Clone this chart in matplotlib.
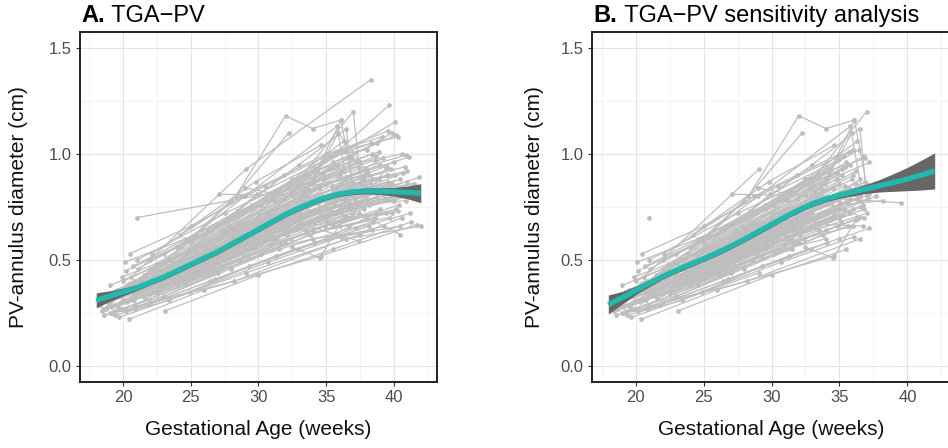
import numpy as np
import matplotlib.pyplot as plt

plt.rcParams['font.family'] = ['Liberation Sans', 'DejaVu Sans']

# individual fetuses: (gestational age in weeks, PV-annulus diameter in cm)
subjects_a = [
    [(19.0, 0.30), (25.0, 0.47), (31.0, 0.66), (36.5, 0.80)],
    [(20.1, 0.36), (26.3, 0.55), (32.1, 0.74), (38.4, 0.88)],
    [(21.0, 0.70), (38.2, 0.90)],
    [(20.6, 0.42), (29.1, 0.93), (38.3, 1.35)],
    [(22.4, 0.45), (28.3, 0.80), (32.0, 1.18), (34.0, 1.12), (36.1, 1.16)],
    [(23.5, 0.50), (28.0, 0.78), (32.25, 1.10)],
    [(19.4, 0.29), (24.8, 0.47), (30.6, 0.71), (39.65, 1.23)],
    [(20.3, 0.38), (27.2, 0.62), (33.0, 0.88), (37.0, 1.20), (37.6, 0.86)],
    [(21.5, 0.43), (28.5, 0.66), (34.2, 0.93), (40.1, 1.15)],
    [(22.0, 0.46), (29.5, 0.74), (35.5, 0.96), (40.2, 1.09)],
    [(20.8, 0.40), (27.8, 0.66), (34.8, 0.88), (40.9, 0.995)],
    [(21.8, 0.44), (30.2, 0.76), (41.1, 0.985)],
    [(23.1, 0.26), (30.0, 0.43), (35.5, 0.55), (41.3, 0.68)],
    [(20.4, 0.22), (26.0, 0.36), (34.6, 0.52), (41.7, 0.667)],
    [(19.0, 0.25), (28.2, 0.40), (36.5, 0.60), (42.0, 0.66)],
    [(19.7, 0.23), (29.1, 0.44), (37.5, 0.62), (40.6, 0.70)],
    [(18.5, 0.27), (24.0, 0.38), (31.5, 0.55), (38.5, 0.68)],
    [(19.2, 0.31), (23.5, 0.42), (30.4, 0.60), (37.8, 0.74)],
    [(20.0, 0.34), (25.5, 0.49), (31.8, 0.68), (38.8, 0.80)],
    [(21.2, 0.37), (26.8, 0.53), (33.0, 0.72), (39.2, 0.84)],
    [(22.2, 0.41), (27.5, 0.58), (33.6, 0.80), (39.5, 0.90)],
    [(18.8, 0.28), (22.6, 0.36), (29.0, 0.55), (35.8, 0.72), (40.0, 0.78)],
    [(19.6, 0.33), (24.2, 0.46), (30.8, 0.66), (36.9, 0.84)],
    [(20.7, 0.35), (27.0, 0.52), (32.6, 0.69), (38.0, 0.79)],
    [(21.4, 0.39), (25.8, 0.52), (31.0, 0.70), (36.2, 0.86), (39.8, 0.93)],
    [(22.8, 0.45), (28.8, 0.67), (34.5, 0.84), (39.0, 0.95)],
    [(23.6, 0.48), (30.0, 0.70), (35.2, 0.90), (38.6, 0.97)],
    [(24.5, 0.52), (31.2, 0.78), (36.8, 0.99)],
    [(20.2, 0.45), (26.5, 0.64), (32.8, 0.84), (37.2, 0.96)],
    [(21.0, 0.50), (27.5, 0.72), (33.5, 0.90), (38.8, 1.05)],
    [(20.5, 0.53), (25.0, 0.66), (30.5, 0.85), (36.0, 1.02)],
    [(19.5, 0.36), (24.5, 0.50), (29.8, 0.64), (35.0, 0.78), (39.5, 0.85)],
    [(18.3, 0.29), (21.5, 0.36), (27.6, 0.52), (33.2, 0.66), (38.2, 0.76)],
    [(19.9, 0.27), (24.6, 0.38), (30.2, 0.53), (35.6, 0.66), (40.4, 0.76)],
    [(21.6, 0.32), (27.3, 0.47), (32.4, 0.60), (37.4, 0.72)],
    [(22.5, 0.34), (28.6, 0.50), (34.0, 0.64), (39.0, 0.74)],
    [(23.8, 0.40), (29.4, 0.55), (35.0, 0.70), (40.8, 0.80)],
    [(20.9, 0.29), (26.2, 0.43), (31.6, 0.58), (36.4, 0.70), (40.3, 0.73)],
    [(19.3, 0.26), (23.0, 0.33), (28.0, 0.46), (33.8, 0.62), (38.6, 0.70)],
    [(18.6, 0.24), (22.0, 0.30), (27.0, 0.44), (32.0, 0.58)],
    [(24.0, 0.44), (30.6, 0.62), (36.6, 0.78), (41.5, 0.86)],
    [(25.2, 0.49), (31.4, 0.68), (37.0, 0.86), (41.0, 0.92)],
    [(26.0, 0.55), (32.0, 0.76), (36.0, 0.90)],
    [(27.0, 0.60), (33.2, 0.82), (38.0, 0.92)],
    [(28.0, 0.58), (34.4, 0.77), (39.6, 0.87)],
    [(29.0, 0.62), (35.4, 0.80), (40.5, 0.88)],
    [(30.0, 0.66), (35.0, 0.86), (37.8, 0.90)],
    [(31.0, 0.62), (36.0, 0.74), (40.0, 0.82)],
    [(32.0, 0.70), (36.5, 0.88), (39.2, 0.98)],
    [(20.0, 0.40), (25.0, 0.55), (30.0, 0.72), (34.8, 0.91), (38.4, 1.00)],
    [(22.0, 0.50), (26.0, 0.62), (31.5, 0.83), (36.3, 1.06)],
    [(23.0, 0.53), (28.4, 0.73), (33.0, 0.95), (36.5, 1.12), (37.0, 0.80)],
    [(24.0, 0.56), (29.0, 0.80), (35.8, 1.13), (36.6, 0.84)],
    [(19.8, 0.33), (26.6, 0.57), (33.4, 0.80), (35.9, 1.10), (38.5, 0.88)],
    [(21.3, 0.35), (28.2, 0.59), (34.0, 0.77), (39.8, 0.86)],
    [(22.7, 0.39), (29.6, 0.61), (35.6, 0.77), (40.7, 0.84)],
    [(18.9, 0.30), (23.8, 0.41), (29.4, 0.58), (34.6, 0.71), (39.4, 0.79)],
    [(20.6, 0.31), (25.6, 0.44), (31.2, 0.60), (36.8, 0.74), (41.2, 0.80)],
    [(21.9, 0.37), (26.4, 0.50), (32.2, 0.65), (37.6, 0.78)],
    [(23.3, 0.43), (27.9, 0.55), (33.9, 0.72), (39.0, 0.82)],
    [(24.8, 0.46), (30.0, 0.60), (35.3, 0.74), (40.6, 0.82)],
    [(25.8, 0.50), (31.8, 0.67), (37.2, 0.81), (41.8, 0.84)],
    [(19.1, 0.34), (22.9, 0.44), (28.9, 0.61), (34.2, 0.78), (38.9, 0.88)],
    [(20.4, 0.37), (24.3, 0.48), (29.9, 0.66), (35.7, 0.84), (40.1, 0.90)],
    [(21.7, 0.40), (26.9, 0.56), (32.9, 0.76), (38.3, 0.86)],
    [(22.3, 0.42), (28.0, 0.62), (33.8, 0.83), (37.9, 0.93)],
    [(18.4, 0.26), (20.8, 0.31), (25.2, 0.42), (30.9, 0.57), (36.2, 0.69)],
    [(19.6, 0.28), (24.0, 0.40), (30.0, 0.58), (35.1, 0.68), (39.9, 0.72)],
    [(20.9, 0.33), (26.1, 0.47), (31.9, 0.63), (37.3, 0.76), (40.9, 0.78)],
    [(23.9, 0.39), (29.2, 0.52), (34.9, 0.66), (40.2, 0.74)],
    [(25.5, 0.44), (31.0, 0.58), (36.0, 0.66), (39.7, 0.70)],
    [(27.5, 0.50), (33.5, 0.64), (38.7, 0.72)],
    [(28.9, 0.52), (34.0, 0.60), (38.4, 0.64)],
    [(21.1, 0.46), (24.0, 0.56), (28.8, 0.73), (32.5, 0.88), (36.9, 0.98)],
    [(19.0, 0.38), (22.8, 0.48), (27.4, 0.64), (31.3, 0.82), (35.3, 0.99), (38.0, 1.02)],
    [(20.1, 0.49), (24.6, 0.60), (29.5, 0.76), (34.3, 0.92)],
    [(22.1, 0.53), (28.7, 0.80), (35.0, 1.00), (39.1, 1.08)],
    [(26.3, 0.64), (32.3, 0.86), (36.4, 1.02), (40.3, 1.08)],
    [(25.0, 0.58), (30.4, 0.78), (35.8, 0.95), (39.9, 1.10)],
    [(24.2, 0.62), (29.8, 0.87), (34.6, 1.04)],
    [(18.2, 0.32), (21.2, 0.40), (26.7, 0.52), (32.7, 0.70), (37.7, 0.82), (41.4, 0.86)],
    [(19.4, 0.24), (23.4, 0.31), (29.3, 0.47), (34.1, 0.58), (39.3, 0.66)],
    [(20.2, 0.26), (24.9, 0.35), (30.7, 0.49), (36.1, 0.61), (40.5, 0.66)],
    [(33.5, 0.78), (36.8, 0.70), (39.5, 0.94)],
    [(32.5, 0.56), (34.55, 0.51), (36.3, 0.70)],
    [(30.5, 0.72), (37.4, 0.59)],
    [(34.0, 0.88), (36.1, 1.16), (37.0, 0.85)],
    [(27.1, 0.81), (36.5, 0.80)],
    [(29.0, 0.84), (33.0, 0.79), (40.8, 0.82)],
    [(18.6, 0.33), (22.3, 0.43), (27.7, 0.58), (33.3, 0.75), (37.9, 0.85)],
    [(19.3, 0.35), (23.6, 0.46), (28.7, 0.63), (34.7, 0.80), (39.6, 0.90)],
    [(20.3, 0.30), (24.7, 0.41), (29.7, 0.56), (35.2, 0.71), (40.4, 0.80)],
    [(21.4, 0.33), (25.9, 0.45), (31.1, 0.61), (36.6, 0.75), (41.6, 0.82)],
    [(18.7, 0.27), (21.9, 0.34), (26.5, 0.46), (31.4, 0.61), (36.7, 0.76)],
    [(19.8, 0.30), (23.3, 0.39), (28.3, 0.54), (33.1, 0.69), (38.1, 0.81)],
    [(20.5, 0.39), (25.4, 0.53), (30.3, 0.69), (35.4, 0.85), (39.4, 0.94)],
    [(21.6, 0.42), (26.0, 0.56), (30.8, 0.72), (36.2, 0.92)],
    [(22.6, 0.37), (27.1, 0.49), (32.3, 0.64), (37.1, 0.79), (41.9, 0.89)],
    [(23.2, 0.47), (28.1, 0.65), (33.7, 0.86), (38.7, 0.99)],
    [(24.4, 0.41), (29.6, 0.57), (34.4, 0.70), (39.8, 0.80)],
    [(25.3, 0.53), (30.1, 0.69), (35.9, 0.88), (40.0, 0.96)],
    [(26.1, 0.48), (31.5, 0.64), (36.3, 0.79), (41.0, 0.87)],
    [(19.1, 0.28), (22.1, 0.35), (27.2, 0.50), (32.1, 0.62), (37.0, 0.72)],
    [(20.0, 0.31), (24.1, 0.43), (28.6, 0.57), (34.3, 0.73), (39.1, 0.83)],
    [(18.5, 0.31), (21.0, 0.37), (25.7, 0.50), (30.5, 0.65), (35.5, 0.82)],
    [(19.9, 0.42), (24.4, 0.53), (29.2, 0.68), (33.9, 0.86), (37.4, 0.94)],
    [(21.1, 0.34), (26.3, 0.49), (31.7, 0.66), (35.8, 0.79), (40.7, 0.91)],
    [(22.9, 0.41), (27.9, 0.59), (32.8, 0.73), (37.8, 0.88)],
    [(23.7, 0.44), (28.5, 0.60), (33.3, 0.78), (38.1, 0.90)],
    [(27.8, 0.55), (32.6, 0.71), (36.9, 0.87), (40.8, 0.94)],
    [(28.4, 0.64), (33.6, 0.75), (38.6, 0.84)],
    [(29.7, 0.59), (34.8, 0.74), (39.3, 0.79)],
    [(30.9, 0.66), (35.6, 0.81), (39.9, 0.86)],
    [(31.6, 0.72), (35.2, 0.93), (38.9, 1.01)],
    [(20.7, 0.47), (25.3, 0.62), (31.0, 0.79), (35.4, 0.94)],
    [(22.4, 0.48), (27.6, 0.69), (31.9, 0.90)],
    [(24.9, 0.55), (29.9, 0.81), (34.9, 0.97), (38.3, 1.05)],
    [(19.2, 0.25), (20.9, 0.27), (26.4, 0.40), (32.9, 0.55), (38.2, 0.66)],
    [(21.8, 0.29), (26.8, 0.41), (31.3, 0.52), (37.2, 0.65), (41.2, 0.72)],
    [(33.1, 0.67), (36.7, 0.66), (39.4, 0.72)],
    [(35.0, 0.60), (38.0, 0.70), (40.5, 0.62)],
    [(34.2, 0.90), (37.5, 0.96), (40.6, 1.00)],
    [(31.9, 0.79), (35.7, 1.01), (39.6, 1.11)],
]

# sensitivity analysis keeps scans up to this age, plus a few late scans
b_cutoff = 37.2
late_b = [
    [(33.0, 0.70), (37.7, 0.80)],
    [(32.0, 0.74), (38.2, 0.78)],
    [(34.5, 0.79), (39.5, 0.77)],
]

# smoothed fit with 95% band
fit_ga = [18, 19, 20, 21, 22, 23, 24, 25, 26, 27, 28, 29, 30,
          31, 32, 33, 34, 35, 36, 37, 38, 39, 40, 41, 42]
fit_a = [0.31, 0.33, 0.35, 0.37, 0.395, 0.42, 0.45, 0.48, 0.51, 0.54, 0.575, 0.61, 0.645,
         0.68, 0.715, 0.745, 0.772, 0.795, 0.812, 0.822, 0.826, 0.825, 0.822, 0.819, 0.815]
half_a = [0.035, 0.025, 0.018, 0.014, 0.012, 0.012, 0.012, 0.012, 0.012, 0.012, 0.012, 0.012, 0.012,
          0.012, 0.012, 0.012, 0.012, 0.012, 0.012, 0.013, 0.014, 0.016, 0.02, 0.03, 0.045]
fit_b = [0.29, 0.322, 0.356, 0.39, 0.423, 0.452, 0.479, 0.506, 0.534, 0.565, 0.598, 0.633, 0.668,
         0.703, 0.736, 0.765, 0.788, 0.806, 0.821, 0.836, 0.851, 0.866, 0.882, 0.90, 0.92]
half_b = [0.045, 0.03, 0.02, 0.016, 0.013, 0.013, 0.013, 0.013, 0.013, 0.013, 0.013, 0.013, 0.013,
          0.013, 0.013, 0.013, 0.013, 0.015, 0.018, 0.022, 0.03, 0.042, 0.055, 0.07, 0.085]

subjects_b = []
for s in subjects_a:
    kept = [p for p in s if p[0] <= b_cutoff]
    if kept:
        subjects_b.append(kept)
subjects_b += late_b


def draw_panel(ax, subjects, fit, half, tag, title, ylab_x):
    for s in subjects:
        ga = [p[0] for p in s]
        pv = [p[1] for p in s]
        ax.plot(ga, pv, color='#BEBEBE', lw=0.9, marker='o', ms=2.4,
                mec='#BEBEBE', mfc='#BEBEBE', zorder=2)
    lo = np.array(fit) - np.array(half)
    hi = np.array(fit) + np.array(half)
    ax.fill_between(fit_ga, lo, hi, color='#666666', lw=0, zorder=3)
    ax.plot(fit_ga, fit, color='#22B8AC', lw=3.8, zorder=4, solid_capstyle='butt')

    ax.set_xlim(16.8, 43.2)
    ax.set_ylim(-0.075, 1.575)
    ax.set_xticks([20, 25, 30, 35, 40])
    ax.set_yticks([0, 0.5, 1.0, 1.5])
    ax.set_yticklabels(['0.0', '0.5', '1.0', '1.5'])
    ax.set_xticks([17.5, 22.5, 27.5, 32.5, 37.5, 42.5], minor=True)
    ax.set_yticks([0.25, 0.75, 1.25], minor=True)
    ax.grid(which='major', color='#E6E2E2', lw=0.8)
    ax.grid(which='minor', color='#F0EDED', lw=0.5)
    ax.set_axisbelow(True)
    ax.tick_params(which='major', length=3, width=0.8, color='#333333',
                   labelcolor='#4D4D4D', labelsize=12, pad=3)
    ax.tick_params(which='minor', length=0)
    for sp in ax.spines.values():
        sp.set_color('#222222')
        sp.set_linewidth(1.4)

    ax.set_xlabel('Gestational Age (weeks)', fontsize=15, color='#111111')
    ax.xaxis.set_label_coords(0.5, -0.108)
    ax.set_ylabel('PV-annulus diameter (cm)', fontsize=15, color='#111111')
    ax.yaxis.set_label_coords(ylab_x, 0.5)

    t1 = ax.text(0.005, 1.015, tag, transform=ax.transAxes, fontsize=17,
                 fontweight='bold', ha='left', va='bottom')
    ax.annotate(title, xy=(1, 0), xycoords=t1, fontsize=17,
                ha='left', va='bottom')


fig = plt.figure(figsize=(9.48, 4.48), dpi=100)
ax_a = fig.add_axes([80 / 948, 66 / 448, 357 / 948, 350 / 448])
ax_b = fig.add_axes([592 / 948, 66 / 448, 359 / 948, 350 / 448])

draw_panel(ax_a, subjects_a, fit_a, half_a, 'A.', ' TGA\u2212PV', -0.146)
draw_panel(ax_b, subjects_b, fit_b, half_b, 'B.', ' TGA\u2212PV sensitivity analysis', -0.134)

fig.savefig('out.png', dpi=100)
